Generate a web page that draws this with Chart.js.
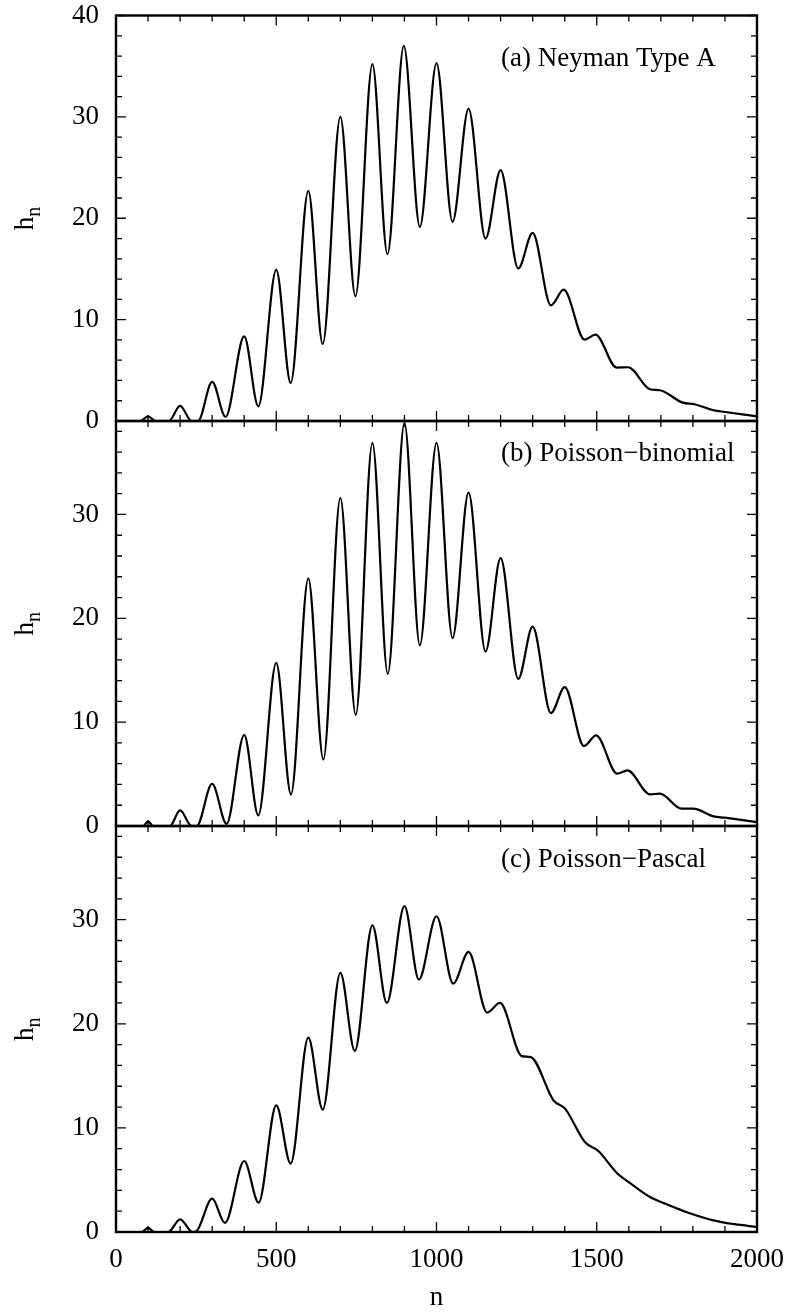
<!DOCTYPE html>
<html>
<head>
<meta charset="utf-8">
<script src="https://cdn.jsdelivr.net/npm/chart.js@4.4.1/dist/chart.umd.min.js"></script>
<style>
  html, body { margin: 0; padding: 0; background: #fff; }
  #wrap { position: relative; width: 791px; height: 1315px; }
  #wrap canvas { position: absolute; left: 0; top: 0; }
</style>
</head>
<body>
<div id="wrap">
  <canvas id="panelA" width="791" height="1315"></canvas>
  <canvas id="panelB" width="791" height="1315"></canvas>
  <canvas id="panelC" width="791" height="1315"></canvas>
</div>
<script>
// (a) Neyman Type A
const nA = [0, 75, 100, 125, 165, 200, 236, 256, 300, 342, 400, 444, 500, 545, 600, 645, 700, 747,
    800, 847, 898, 948, 1000, 1050, 1100, 1153, 1200, 1255, 1300, 1357, 1397, 1462, 1496, 1562,
    1598, 1666, 1697, 1768, 1805, 1864, 1900, 2000];
const hA = [0, 0, 0.45, 0, 0, 1.5, 0, 0, 3.85, 0.4, 8.35, 1.45, 14.9, 3.75, 22.7, 7.6, 30.0, 12.3,
    35.2, 16.45, 37.0, 19.15, 35.3, 19.65, 30.8, 18.0, 24.75, 15.05, 18.55, 11.4, 12.95, 8.03, 8.53, 5.27,
    5.3, 3.13, 3.03, 1.81, 1.65, 1.06, 0.89, 0.46];

// (b) Poisson-binomial
const nB = [0, 85, 100, 116, 168, 200, 236, 252, 300, 345, 400, 444, 500, 546, 600, 647, 700, 748,
    800, 848, 900, 948, 1000, 1050, 1100, 1153, 1200, 1255, 1300, 1357, 1400, 1460, 1498, 1564,
    1596, 1666, 1697, 1765, 1801, 1864, 1900, 2000];
const hB = [0, 0, 0.45, 0, 0, 1.5, 0, 0, 4.07, 0.2, 8.78, 1.03, 15.7, 3.05, 23.85, 6.4, 31.6, 10.7,
    36.9, 14.65, 38.8, 17.4, 36.9, 18.1, 32.1, 16.8, 25.8, 14.17, 19.2, 10.87, 13.37, 7.7, 8.72, 5.04,
    5.36, 3.05, 3.11, 1.67, 1.67, 0.93, 0.8, 0.38];

// (c) Poisson-Pascal
const nC = [0, 80, 100, 120, 163, 200, 239, 250, 300, 340, 400, 445, 500, 545, 600, 645, 700, 745,
    800, 845, 900, 945, 1000, 1052, 1100, 1158, 1198, 1266, 1294, 1365, 1401, 1463, 1505, 1562,
    1604, 1666, 1708, 1770, 1864, 1930, 2000];
const hC = [0, 0, 0.4, 0, 0, 1.22, 0, 0.05, 3.2, 0.87, 6.82, 2.82, 12.17, 6.57, 18.67, 11.75, 24.9, 17.4,
    29.46, 22.0, 31.3, 24.25, 30.33, 23.86, 26.9, 21.08, 22.0, 16.9, 16.8, 12.65, 11.85, 8.65, 7.78, 5.7,
    4.7, 3.36, 2.79, 2.02, 1.12, 0.75, 0.48];

const xTickLabels = [0, 500, 1000, 1500, 2000];
const yTicksA = [0, 10, 20, 30, 40];
const yTicksBC = [0, 10, 20, 30];

const serif = "'Liberation Serif', 'Times New Roman', serif";
const canvasHeight = 1315;

const panelFrame = {
    id: "panelFrame",
    afterDraw(chart, args, opts) {
        const { ctx, chartArea: area, scales } = chart;
        const xs = scales.x;
        const ys = scales.y;
        ctx.save();
        ctx.strokeStyle = "#000";
        ctx.lineWidth = 1.3;
        ctx.beginPath();
        for (let v = xs.min; v <= xs.max; v += 100) {
            const px = xs.getPixelForValue(v);
            const len = v % 500 === 0 ? 10 : 6;
            ctx.moveTo(px, area.bottom);
            ctx.lineTo(px, area.bottom - len);
            ctx.moveTo(px, area.top);
            ctx.lineTo(px, area.top + len);
        }
        for (let v = 0; v <= ys.max; v += 2) {
            const py = ys.getPixelForValue(v);
            const len = v % 10 === 0 ? 10 : 6;
            ctx.moveTo(area.left, py);
            ctx.lineTo(area.left + len, py);
            ctx.moveTo(area.right, py);
            ctx.lineTo(area.right - len, py);
        }
        ctx.stroke();

        ctx.lineWidth = 2.4;
        ctx.strokeRect(area.left, area.top, area.width, area.height);

        // panel caption
        ctx.fillStyle = "#000";
        ctx.font = `27px ${serif}`;
        ctx.textAlign = "left";
        ctx.textBaseline = "alphabetic";
        ctx.fillText(opts.label, 501, area.top + opts.labelDy);

        // rotated h_n
        const cy = (area.top + area.bottom) / 2;
        ctx.translate(33, cy);
        ctx.rotate(-Math.PI / 2);
        const hw = ctx.measureText("h").width;
        ctx.fillText("h", -12, 0);
        ctx.font = `20px ${serif}`;
        ctx.fillText("n", -12 + hw, 7);
        ctx.restore();
    },
};

function makePanel(id, ns, hs, yMax, yTicks, label, labelDy, top, bottom, showX) {
    const data = ns.map((n, i) => ({ x: n, y: hs[i] }));
    return new Chart(document.getElementById(id), {
        type: "line",
        data: {
            datasets: [{
                data,
                borderColor: "#000",
                borderWidth: 2.2,
                pointRadius: 0,
                fill: false,
                cubicInterpolationMode: "monotone",
            }],
        },
        options: {
            responsive: false,
            animation: false,
            events: [],
            layout: {
                padding: { left: 0, right: 34, top, bottom: showX ? 0 : canvasHeight - bottom },
            },
            plugins: {
                legend: { display: false },
                tooltip: { enabled: false },
                panelFrame: { label, labelDy },
            },
            scales: {
                x: {
                    type: "linear",
                    min: 0,
                    max: 2000,
                    grid: { display: false, drawTicks: false },
                    border: { display: false },
                    afterBuildTicks: (scale) => {
                        scale.ticks = xTickLabels.map((v) => ({ value: v }));
                    },
                    afterFit: (scale) => {
                        scale.height = showX ? canvasHeight - bottom : 0;
                        scale.paddingLeft = 0;
                        scale.paddingRight = 0;
                    },
                    ticks: {
                        display: showX,
                        maxRotation: 0,
                        autoSkip: false,
                        padding: 12,
                        color: "#000",
                        font: { family: serif, size: 27 },
                        callback: (v) => String(v),
                    },
                    title: {
                        display: showX,
                        text: "n",
                        color: "#000",
                        font: { family: serif, size: 27 },
                        padding: { top: 0, bottom: 1 },
                    },
                },
                y: {
                    min: 0,
                    max: yMax,
                    grid: { display: false, drawTicks: false },
                    border: { display: false },
                    afterBuildTicks: (scale) => {
                        scale.ticks = yTicks.map((v) => ({ value: v }));
                    },
                    afterFit: (scale) => {
                        scale.width = 116;
                        scale.paddingTop = 0;
                        scale.paddingBottom = 0;
                    },
                    ticks: {
                        padding: 17,
                        color: "#000",
                        font: { family: serif, size: 27 },
                        callback: (v) => String(v),
                    },
                },
            },
        },
        plugins: [panelFrame],
    });
}

makePanel("panelA", nA, hA, 40, yTicksA, "(a) Neyman Type A", 50, 15.5, 421, false);
makePanel("panelB", nB, hB, 39, yTicksBC, "(b) Poisson\u2212binomial", 40, 421, 826, false);
makePanel("panelC", nC, hC, 39, yTicksBC, "(c) Poisson\u2212Pascal", 41, 826, 1232, true);
</script>
</body>
</html>
